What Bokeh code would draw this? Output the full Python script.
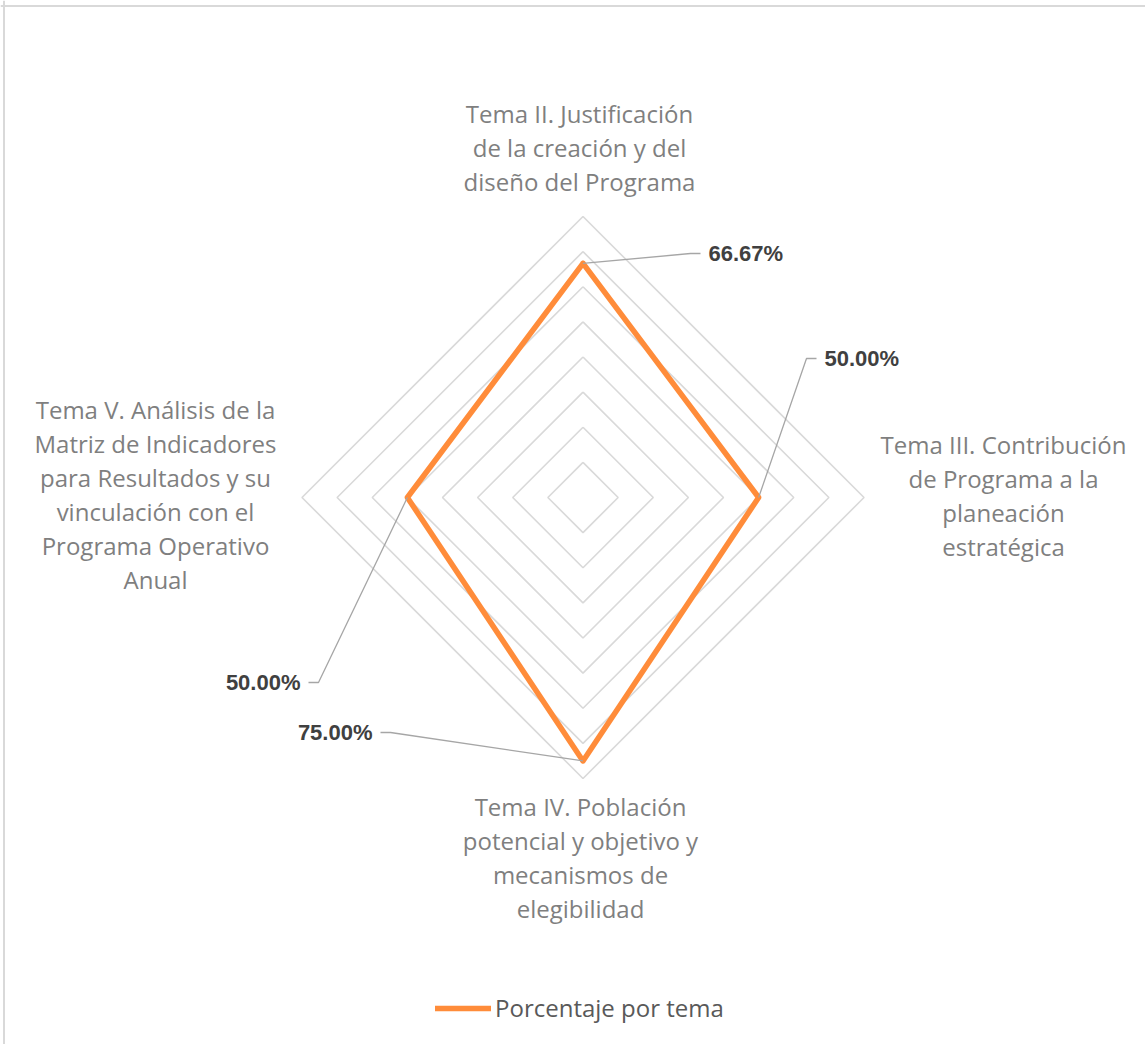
import math
from bokeh.plotting import figure
from bokeh.models import Range1d, Legend, LegendItem, Span
from bokeh.core.properties import value
from bokeh.embed import file_html
from bokeh.resources import INLINE

# ---- data ----
categories = [
    "Tema II. Justificación\nde la creación y del\ndiseño del Programa",
    "Tema III. Contribución\nde Programa a la\nplaneación\nestratégica",
    "Tema IV. Población\npotencial y objetivo y\nmecanismos de\nelegibilidad",
    "Tema V. Análisis de la\nMatriz de Indicadores\npara Resultados y su\nvinculación con el\nPrograma Operativo\nAnual",
]
values = [0.6667, 0.50, 0.75, 0.50]
ring_levels = [0.1, 0.2, 0.3, 0.4, 0.5, 0.6, 0.7, 0.8]
series_name = "Porcentaje por tema"

# ---- layout constants (pixels) ----
W, H = 1145, 1044
CX, CY = 582.5, 497.0              # radar centre in page pixels
RMAX_PX = 281.0
S = RMAX_PX / max(ring_levels)     # pixels per data unit

def dx(px):
    return px / S

angles = [math.pi / 2 - i * 2 * math.pi / len(categories) for i in range(len(categories))]

p = figure(width=W, height=H, output_backend="svg", toolbar_location=None,
           x_range=Range1d(-CX / S, (W - CX) / S),
           y_range=Range1d((CY - H) / S, CY / S),
           min_border=0)
p.xaxis.visible = False
p.yaxis.visible = False
p.xgrid.visible = False
p.ygrid.visible = False
p.outline_line_color = None
p.background_fill_color = "white"
p.border_fill_color = "white"

# chart-area border (top and left edges visible in the crop)
p.add_layout(Span(location=(CY - 5.5) / S, dimension="width", line_color="#d9d9d9", line_width=2))
p.add_layout(Span(location=(3.5 - CX) / S, dimension="height", line_color="#d9d9d9", line_width=2))

# grid rings
xs, ys = [], []
for r in ring_levels:
    xs.append([r * math.cos(a) for a in angles] + [r * math.cos(angles[0])])
    ys.append([r * math.sin(a) for a in angles] + [r * math.sin(angles[0])])
p.multi_line(xs, ys, line_color="#d9d9d9", line_width=1.6)

# series
sx = [v * math.cos(a) for v, a in zip(values, angles)]
sy = [v * math.sin(a) for v, a in zip(values, angles)]
line_r = p.line(sx + [sx[0]], sy + [sy[0]], line_color="#ff8c3a", line_width=5.5,
                line_join="round", line_cap="round")

# data labels with leader lines (elbow offsets in px relative to centre, direction)
leaders = [((107.5, 244.0), 1), ((223.5, 139.0), 1), ((-192.5, -235.0), -1), ((-264.5, -185.0), -1)]
for k, ((ex, ey), d) in enumerate(leaders):
    px0, py0 = sx[k], sy[k]
    ex_d, ey_d = dx(ex), dx(ey)
    hx = ex_d + d * dx(10)
    p.line([px0, ex_d, hx], [py0, ey_d, ey_d], line_color="#a6a6a6", line_width=1.3)
    p.text([hx + d * dx(8)], [ey_d], text=[f"{values[k]*100:.2f}%"],
           text_font=value("Liberation Sans"), text_font_style="bold",
           text_font_size="22px", text_color="#404040",
           text_align="left" if d > 0 else "right", text_baseline="middle")

# category labels
label_centres = [(-3.5, 350.0), (420.5, 2.0), (-2.5, -360.0), (-427.5, 3.0)]
LINE_PX = 34.0
for cat, (ox, oy) in zip(categories, label_centres):
    lines = cat.split("\n")
    n = len(lines)
    for j, ln in enumerate(lines):
        yy = oy + ((n - 1) / 2 - j) * LINE_PX
        p.text([dx(ox)], [dx(yy)], text=[ln], text_font=value("Open Sans"),
               text_font_size="24px", text_color="#7f7f7f",
               text_align="center", text_baseline="middle")

legend = Legend(items=[LegendItem(label=series_name, renderers=[line_r])],
                location=(435, 20), orientation="horizontal",
                border_line_color=None, background_fill_alpha=0,
                padding=0, margin=0, glyph_width=56, glyph_height=20,
                label_standoff=4, label_text_font="Open Sans",
                label_text_font_size="24px", label_text_color="#595959")
p.add_layout(legend, "center")

open("out.html", "w").write(file_html(p, INLINE))
